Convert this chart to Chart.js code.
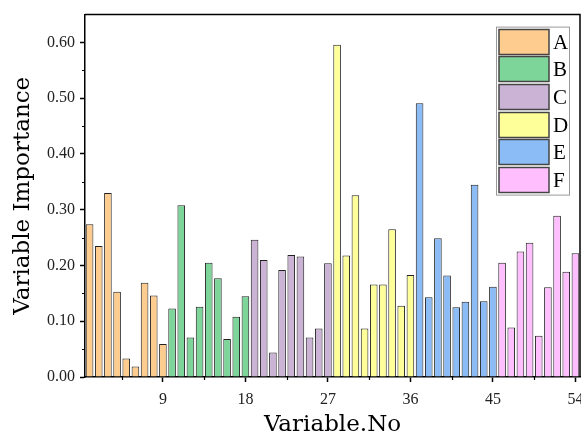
<!DOCTYPE html>
<html>
<head>
<meta charset="utf-8">
<script src="https://cdn.jsdelivr.net/npm/chart.js@4"></script>
<style>
  html, body { margin: 0; padding: 0; overflow: hidden; background: #fff; }
  #wrap { width: 600px; height: 439px; position: relative; }
</style>
</head>
<body>
<div id="wrap"><canvas id="importanceChart"></canvas></div>
<script>
// Variable importance per group (9 variables each)
const groupNames = ['A', 'B', 'C', 'D', 'E', 'F'];
const importanceA = [0.274, 0.235, 0.330, 0.153, 0.033, 0.019, 0.169, 0.146, 0.059];
const importanceB = [0.123, 0.308, 0.071, 0.126, 0.205, 0.177, 0.068, 0.108, 0.145];
const importanceC = [0.246, 0.210, 0.044, 0.192, 0.219, 0.216, 0.071, 0.087, 0.204];
const importanceD = [0.596, 0.218, 0.326, 0.087, 0.166, 0.166, 0.265, 0.128, 0.183];
const importanceE = [0.491, 0.143, 0.249, 0.182, 0.125, 0.135, 0.345, 0.136, 0.162];
const importanceF = [0.205, 0.089, 0.225, 0.241, 0.074, 0.161, 0.289, 0.189, 0.222];
const groupColors = ['#FFCC8F', '#7DD599', '#CBB3D6', '#FFFF99', '#8BBCF6', '#FFBFFF'];

// Axis ticks
const xMajorTicks = [9, 18, 27, 36, 45, 54];
const xMinorTicks = [4.5, 13.5, 22.5, 31.5, 40.5, 49.5];
const yMinorTicks = [0.05, 0.15, 0.25, 0.35, 0.45, 0.55];

const allGroups = [importanceA, importanceB, importanceC, importanceD, importanceE, importanceF];
const variableNos = [];
allGroups.forEach(g => g.forEach(() => variableNos.push(String(variableNos.length + 1))));

const datasets = allGroups.map((vals, gi) => {
    const data = variableNos.map(() => null);
    vals.forEach((v, i) => { data[gi * vals.length + i] = v; });
    return {
        label: groupNames[gi],
        data: data,
        backgroundColor: groupColors[gi],
        borderColor: '#222',
        borderWidth: 1,
        borderSkipped: 'bottom',
        grouped: false,
        barPercentage: 0.83,
        categoryPercentage: 1
    };
});

const serif = "'Liberation Serif', 'Times New Roman', serif";
const titleSerif = "'DejaVu Serif', serif";

// frame, minor ticks and boxed legend inside the plot
const framePlugin = {
    id: 'frame',
    afterDraw(chart) {
        const ctx = chart.ctx;
        const a = chart.chartArea;
        const xs = chart.scales.x, ys = chart.scales.y;
        ctx.save();
        ctx.strokeStyle = '#000';
        ctx.lineWidth = 1.5;
        ctx.beginPath();
        ctx.moveTo(a.left, a.top);
        ctx.lineTo(a.right, a.top);
        ctx.lineTo(a.right, a.bottom);
        ctx.stroke();

        ctx.lineWidth = 1.2;
        ctx.beginPath();
        xMinorTicks.forEach(t => {
            const px = Math.round(xs.getPixelForValue(t - 1)) + 0.5;
            ctx.moveTo(px, a.bottom);
            ctx.lineTo(px, a.bottom + 3);
        });
        yMinorTicks.forEach(t => {
            const py = Math.round(ys.getPixelForValue(t)) + 0.5;
            ctx.moveTo(a.left, py);
            ctx.lineTo(a.left - 3, py);
        });
        ctx.stroke();

        // legend
        const boxW = 73, itemH = 27.7, boxH = 168;
        const lx = a.right - 84, ly = a.top + 12;
        ctx.fillStyle = '#fff';
        ctx.fillRect(lx, ly, boxW, boxH);
        ctx.strokeStyle = '#999';
        ctx.lineWidth = 1;
        ctx.strokeRect(lx + 0.5, ly + 0.5, boxW, boxH);
        ctx.font = '21px ' + serif;
        ctx.textBaseline = 'middle';
        chart.data.datasets.forEach((ds, i) => {
            const y = Math.round(ly + 2 + i * itemH) + 0.5;
            ctx.fillStyle = ds.backgroundColor;
            ctx.fillRect(lx + 3, y, 50, 25);
            ctx.strokeStyle = '#444';
            ctx.lineWidth = 1.5;
            ctx.strokeRect(lx + 3, y, 50, 25);
            ctx.fillStyle = '#000';
            ctx.fillText(ds.label, lx + 57, y + 14);
        });
        ctx.restore();
    }
};

new Chart(document.getElementById('importanceChart'), {
    type: 'bar',
    data: { labels: variableNos, datasets: datasets },
    options: {
        responsive: true,
        maintainAspectRatio: false,
        animation: false,
        layout: { padding: { top: 14, right: 20, left: 0, bottom: 0 } },
        plugins: { legend: { display: false }, tooltip: { enabled: false } },
        scales: {
            x: {
                offset: true,
                grid: {
                    offset: false,
                    drawOnChartArea: false,
                    tickLength: 5,
                    tickWidth: 1.5,
                    tickColor: (c) => xMajorTicks.includes(c.index + 1) ? '#000' : 'rgba(0,0,0,0)'
                },
                border: { color: '#000', width: 1.5 },
                ticks: {
                    autoSkip: false,
                    maxRotation: 0,
                    padding: 8,
                    color: '#222',
                    font: { family: serif, size: 16 },
                    callback: (v, i) => xMajorTicks.includes(i + 1) ? variableNos[i] : ''
                },
                title: {
                    display: true,
                    text: 'Variable.No',
                    color: '#000',
                    font: { family: titleSerif, size: 23 },
                    padding: { top: 0, bottom: 0 }
                },
                afterFit: (s) => { s.height = 62; }
            },
            y: {
                min: 0,
                max: 0.65,
                grid: {
                    drawOnChartArea: false,
                    tickLength: 5,
                    tickWidth: 1.5,
                    tickColor: '#000'
                },
                border: { color: '#000', width: 1.5 },
                ticks: {
                    stepSize: 0.1,
                    padding: 5,
                    color: '#222',
                    font: { family: serif, size: 16 },
                    callback: (v) => v.toFixed(2)
                },
                afterBuildTicks: (s) => {
                    s.ticks = s.ticks.filter(t => Math.abs(t.value * 10 - Math.round(t.value * 10)) < 1e-6);
                },
                title: {
                    display: true,
                    text: 'Variable Importance',
                    color: '#000',
                    font: { family: titleSerif, size: 23 },
                    padding: { top: 9, bottom: 0 }
                },
                afterFit: (s) => { s.width = 85; }
            }
        }
    },
    plugins: [framePlugin]
});
</script>
</body>
</html>
